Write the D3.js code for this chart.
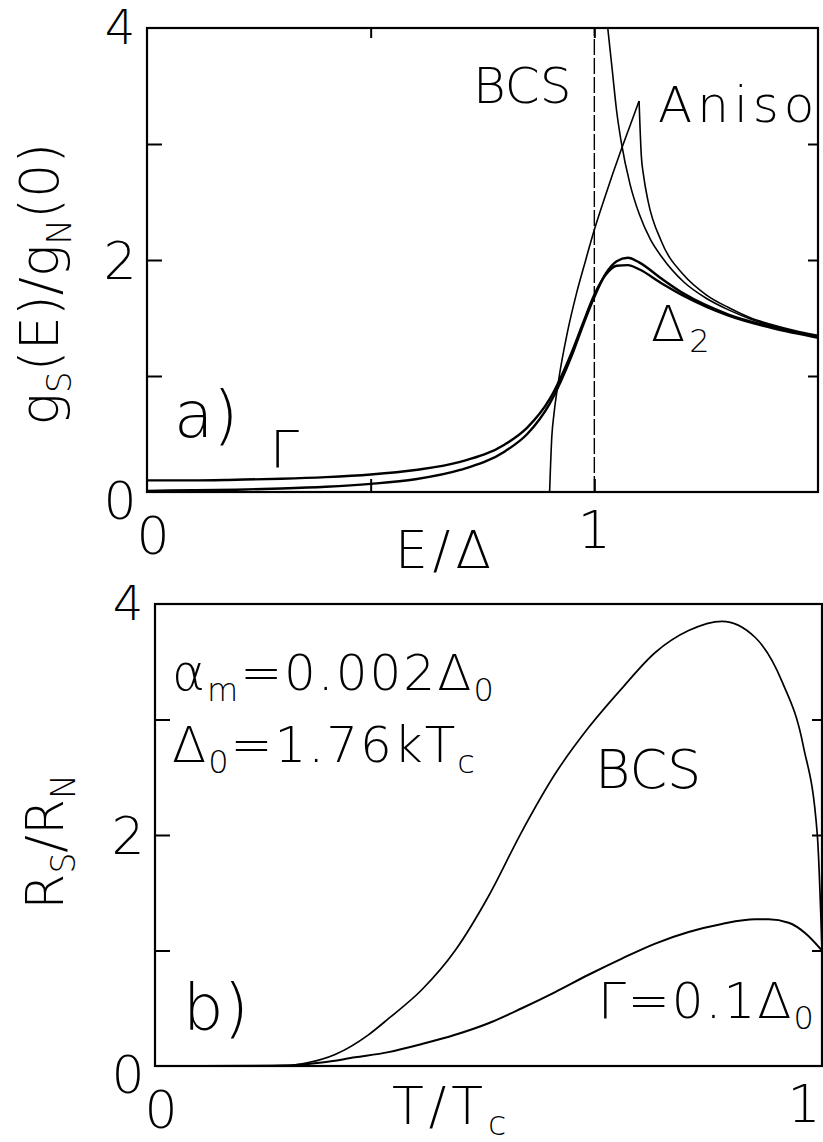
<!DOCTYPE html>
<html>
<head>
<meta charset="utf-8">
<script src="https://d3js.org/d3.v7.min.js"></script>
<style>
body { margin: 0; background: #fff; }
svg { display: block; }
text { font-family: "DejaVu Sans", "Liberation Sans", sans-serif; font-weight: 200; fill: #000; }
</style>
</head>
<body>
<div id="chart"></div>
<script>
// ---- panel a) density of states g_S(E)/g_N(0) vs E/Delta ----
// lifetime-broadened curve (Gamma)
var gammaE = [0, 0.1, 0.2, 0.3, 0.4, 0.5, 0.6, 0.7, 0.8, 0.85, 0.9, 0.95, 0.975, 1.0, 1.025, 1.05, 1.075, 1.1, 1.15, 1.2, 1.3, 1.4, 1.5];
var gammaG = [0.10, 0.10, 0.106, 0.114, 0.128, 0.151, 0.19, 0.26, 0.41, 0.555, 0.80, 1.21, 1.46, 1.70, 1.87, 1.95, 1.956, 1.92, 1.80, 1.69, 1.52, 1.41, 1.33];
// Delta_2 curve
var delta2E = [0, 0.1, 0.2, 0.3, 0.4, 0.5, 0.6, 0.7, 0.8, 0.85, 0.9, 0.95, 0.975, 1.0, 1.025, 1.05, 1.075, 1.1, 1.15, 1.2, 1.3, 1.4, 1.5];
var delta2G = [0.01, 0.015, 0.02, 0.03, 0.045, 0.07, 0.11, 0.19, 0.35, 0.50, 0.76, 1.18, 1.44, 1.68, 1.88, 1.99, 2.02, 1.98, 1.84, 1.71, 1.53, 1.42, 1.34];
// BCS: vertical edge at E = Delta, then the decaying branch
var bcsEdgeE = [1, 1];
var bcsEdgeG = [0, 4];
var bcsE = [1.03, 1.04, 1.05, 1.06, 1.08, 1.1, 1.125, 1.15, 1.2, 1.25, 1.3, 1.35, 1.4, 1.45, 1.5];
var bcsG = [4.0, 3.64, 3.28, 3.02, 2.65, 2.40, 2.18, 2.03, 1.81, 1.67, 1.57, 1.49, 1.43, 1.38, 1.34];
// anisotropic gap
var anisoE = [0.9, 0.905, 0.91, 0.92, 0.94, 0.96, 0.98, 1.0, 1.02, 1.04, 1.06, 1.08, 1.1, 1.105, 1.11, 1.12, 1.15, 1.2, 1.25, 1.3, 1.35, 1.4, 1.45, 1.5];
var anisoG = [0, 0.48, 0.68, 0.96, 1.38, 1.71, 1.99, 2.26, 2.50, 2.73, 2.95, 3.16, 3.37, 2.90, 2.73, 2.51, 2.16, 1.87, 1.70, 1.59, 1.50, 1.44, 1.39, 1.35];

// ---- panel b) R_S/R_N vs T/T_c ----
var bcsT = [0, 0.2, 0.23, 0.27, 0.32, 0.35, 0.4, 0.45, 0.5, 0.55, 0.6, 0.65, 0.7, 0.75, 0.8, 0.85, 0.9, 0.94, 0.972, 0.993, 1.0];
var bcsR = [0, 0.005, 0.03, 0.10, 0.27, 0.41, 0.66, 1.0, 1.47, 2.03, 2.53, 2.93, 3.27, 3.58, 3.77, 3.85, 3.71, 3.33, 2.77, 2.0, 1.0];
var gammaT = [0, 0.15, 0.2, 0.25, 0.3, 0.35, 0.4, 0.45, 0.5, 0.55, 0.6, 0.65, 0.7, 0.75, 0.8, 0.85, 0.9, 0.92, 0.95, 0.975, 1.0];
var gammaR = [0, 0, 0.005, 0.03, 0.075, 0.12, 0.19, 0.27, 0.37, 0.50, 0.64, 0.79, 0.93, 1.06, 1.16, 1.23, 1.27, 1.27, 1.24, 1.15, 1.0];

// tick values / labels
var yTickMarks = [1, 2, 3];
var yTickLabels = [0, 2, 4];
var xTickMarksA = [0.5, 1];
var xTickLabelsA = [0, 1];
var xTickLabelsB = [0, 1];

var svg = d3.select("#chart").append("svg")
    .attr("width", 823)
    .attr("height", 1142);

// text with subscripts: parts = [[string, isSub], ...]
function richText(x, y, parts, size, spacing) {
    var t = svg.append("text")
        .attr("x", x).attr("y", y)
        .style("font-size", size + "px")
        .style("letter-spacing", (spacing || 0) + "px");
    var shift = 0;
    parts.forEach(function(p) {
        var want = p[1] ? size * 0.22 : 0;
        t.append("tspan")
            .attr("dy", want - shift)
            .style("font-size", (p[1] ? size * 0.64 : size) + "px")
            .text(p[0]);
        shift = want;
    });
    return t;
}

function panel(cfg) {
    var x = d3.scaleLinear().domain(cfg.xDomain).range([cfg.left, cfg.right]);
    var y = d3.scaleLinear().domain([0, 4]).range([cfg.bottom, cfg.top]);
    var g = svg.append("g");

    var clipId = "clip" + cfg.name;
    svg.append("clipPath").attr("id", clipId)
        .append("rect")
        .attr("x", cfg.left).attr("y", cfg.top)
        .attr("width", cfg.right - cfg.left).attr("height", cfg.bottom - cfg.top);

    // inward ticks on all four sides
    var axes = [
        [d3.axisLeft(y).tickValues(yTickMarks).tickSize(-15), cfg.left, 0],
        [d3.axisRight(y).tickValues(yTickMarks).tickSize(-10), cfg.right, 0],
        [d3.axisBottom(x).tickValues(cfg.xMarks).tickSize(-13), 0, cfg.bottom],
        [d3.axisTop(x).tickValues(cfg.xMarks).tickSize(-10), 0, cfg.top]
    ];
    axes.forEach(function(a) {
        var ax = g.append("g")
            .attr("transform", "translate(" + a[1] + "," + a[2] + ")")
            .call(a[0].tickFormat(""));
        ax.select(".domain").remove();
        ax.selectAll("line").attr("stroke", "#000").attr("stroke-width", 2);
    });

    g.append("rect")
        .attr("x", cfg.left).attr("y", cfg.top)
        .attr("width", cfg.right - cfg.left)
        .attr("height", cfg.bottom - cfg.top)
        .attr("fill", "none")
        .attr("stroke", "#000")
        .attr("stroke-width", 2.2);

    // tick labels
    yTickLabels.forEach(function(v) {
        var off = v === 0 ? 27 : (v === 4 ? 16 : 19);
        svg.append("text")
            .attr("x", cfg.left - 27).attr("y", y(v) + off)
            .attr("text-anchor", "middle")
            .style("font-size", v === 4 ? "48px" : "52px")
            .text(v);
    });
    cfg.xLabels.forEach(function(v) {
        svg.append("text")
            .attr("x", v === 0 ? x(v) + 6 : Math.min(x(v), 804))
            .attr("y", cfg.bottom + (v === 0 ? 62 : 56))
            .attr("text-anchor", "middle")
            .style("font-size", "52px")
            .text(v);
    });

    var line = d3.line()
        .x(function(d) { return x(d[0]); })
        .y(function(d) { return y(d[1]); })
        .curve(d3.curveMonotoneX);

    var curves = svg.append("g").attr("clip-path", "url(#" + clipId + ")");
    return { x: x, y: y, line: line, curves: curves };
}

function drawCurve(p, xs, ys, width, curve, dash) {
    var data = d3.zip(xs, ys);
    var l = p.line;
    if (curve) l = d3.line().x(function(d) { return p.x(d[0]); }).y(function(d) { return p.y(d[1]); }).curve(curve);
    p.curves.append("path")
        .datum(data)
        .attr("d", l)
        .attr("fill", "none")
        .attr("stroke", "#000")
        .attr("stroke-width", width)
        .attr("stroke-dasharray", dash || null)
        .attr("stroke-linejoin", "round");
}

// ---------- panel a ----------
var pa = panel({
    name: "a", xDomain: [0, 1.5],
    left: 147, right: 818, top: 28, bottom: 492,
    xMarks: xTickMarksA, xLabels: xTickLabelsA
});
drawCurve(pa, bcsEdgeE, bcsEdgeG, 1.4, d3.curveLinear, "16,3");
drawCurve(pa, bcsE, bcsG, 1.6);
// anisotropic curve has a cusp at its maximum: draw both sides separately
var peak = d3.maxIndex(anisoG);
drawCurve(pa, anisoE.slice(0, peak + 1), anisoG.slice(0, peak + 1), 1.6);
drawCurve(pa, anisoE.slice(peak), anisoG.slice(peak), 1.6);
drawCurve(pa, gammaE, gammaG, 2.4);
drawCurve(pa, delta2E, delta2G, 2.4);

richText(473, 103, [["BCS"]], 50);
richText(658, 122, [["Aniso"]], 50, 5);
richText(651, 341, [["Δ"], ["2", true]], 50, 4);
richText(270, 468, [["Γ"]], 52);
richText(174, 437, [["a)"]], 64);
richText(395, 568, [["E/Δ"]], 52, 5);

svg.append("g")
    .attr("transform", "translate(58,284) rotate(-90)")
    .append("text")
    .attr("text-anchor", "middle")
    .style("font-size", "54px")
    .selectAll("tspan")
    .data([["g"], ["S", 1], ["(E)/g", 0], ["N", 1], ["(0)", 0]])
    .enter().append("tspan")
    .attr("dy", function(d, i) { return i === 0 ? 0 : (d[1] ? 13 : -13); })
    .style("font-size", function(d) { return d[1] ? "34px" : "54px"; })
    .text(function(d) { return d[0]; });

// ---------- panel b ----------
var pb = panel({
    name: "b", xDomain: [0, 1],
    left: 155, right: 822, top: 604, bottom: 1066,
    xMarks: [], xLabels: xTickLabelsB
});
drawCurve(pb, bcsT, bcsR, 1.7);
drawCurve(pb, gammaT, gammaR, 2.0);

richText(172, 690, [["α"], ["m", true], ["=0.002Δ"], ["0", true]], 50, 2);
richText(172, 762, [["Δ"], ["0", true], ["=1.76kT"], ["c", true]], 50, 2);
richText(595, 788, [["BCS"]], 54);
richText(598, 1018, [["Γ=0.1Δ"], ["0", true]], 50, 2);
richText(183, 1030, [["b)"]], 64);
richText(392, 1124, [["T/T"], ["c", true]], 52, 5);

svg.append("g")
    .attr("transform", "translate(63,842) rotate(-90)")
    .append("text")
    .attr("text-anchor", "middle")
    .style("font-size", "52px")
    .selectAll("tspan")
    .data([["R"], ["S", 1], ["/R", 0], ["N", 1]])
    .enter().append("tspan")
    .attr("dy", function(d, i) { return i === 0 ? 0 : (d[1] ? 12 : -12); })
    .style("font-size", function(d) { return d[1] ? "33px" : "52px"; })
    .text(function(d) { return d[0]; });
</script>
</body>
</html>
